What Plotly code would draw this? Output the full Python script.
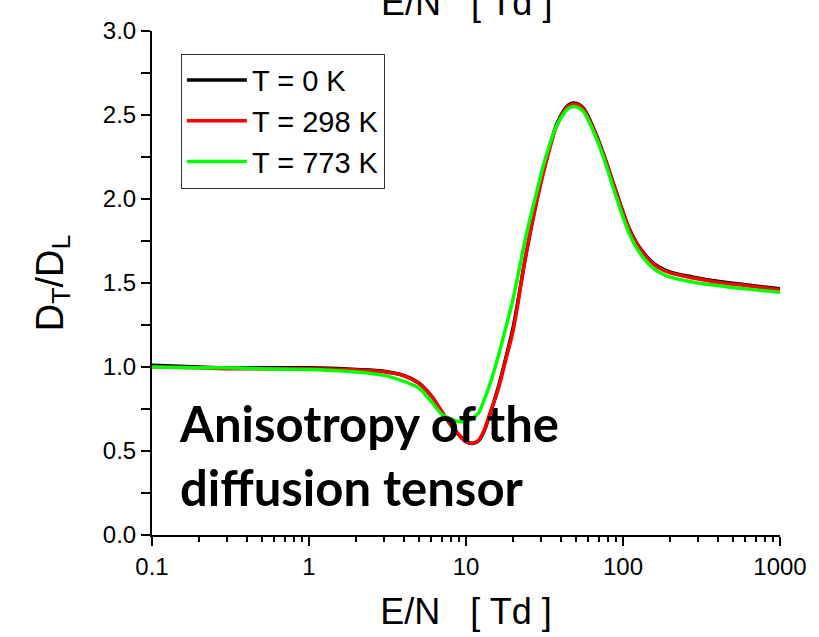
import plotly.graph_objects as go

# E/N values [Td]
en = [0.1, 0.2, 0.3, 0.5, 1, 2, 3, 4, 5, 6, 7, 8, 9, 10, 11, 12, 13, 14, 16, 18,
      20, 24, 28, 32, 38, 45, 50, 56, 65, 75, 90, 110, 130, 160, 200, 280, 400, 600, 1000]

# D_T / D_L
t0 = [1.01, 1.0, 0.995, 0.995, 0.995, 0.985, 0.975, 0.95, 0.905, 0.83, 0.735, 0.655, 0.595, 0.555, 0.545,
      0.56, 0.615, 0.70, 0.875, 1.06, 1.24, 1.66, 1.98, 2.21, 2.45, 2.56, 2.57, 2.54, 2.42, 2.27,
      2.05, 1.82, 1.70, 1.61, 1.565, 1.535, 1.51, 1.49, 1.465]
t298 = [1.0, 0.995, 0.99, 0.99, 0.99, 0.983, 0.972, 0.948, 0.903, 0.828, 0.735, 0.657, 0.598, 0.557, 0.546,
        0.562, 0.62, 0.705, 0.865, 1.05, 1.22, 1.66, 1.97, 2.20, 2.44, 2.555, 2.565, 2.535, 2.415, 2.265,
        2.045, 1.815, 1.695, 1.605, 1.56, 1.53, 1.505, 1.485, 1.46]
t773 = [1.0, 0.995, 0.995, 0.99, 0.985, 0.97, 0.95, 0.915, 0.875, 0.795, 0.72, 0.69, 0.675, 0.675, 0.695,
        0.725, 0.80, 0.88, 1.06, 1.24, 1.41, 1.77, 2.03, 2.24, 2.44, 2.54, 2.55, 2.52, 2.40, 2.25,
        2.02, 1.79, 1.67, 1.58, 1.535, 1.505, 1.485, 1.465, 1.445]

series = [("T = 0 K", t0, "#000000"), ("T = 298 K", t298, "#ff0000"), ("T = 773 K", t773, "#00ff00")]

x_ticks = [0.1, 1, 10, 100, 1000]
x_ticktext = ["0.1", "1", "10", "100", "1000"]
y_ticks = [0.0, 0.5, 1.0, 1.5, 2.0, 2.5, 3.0]

x_minor = [m * 10 ** e for e in range(-1, 3) for m in range(2, 10)]
y_minor = [0.25, 0.75, 1.25, 1.75, 2.25, 2.75]

SANS = "Liberation Sans, Arial, sans-serif"

fig = go.Figure()
for name, vals, col in series:
    fig.add_trace(go.Scatter(x=en, y=vals, name=name, mode="lines",
                             line=dict(color=col, width=3.5, shape="spline", smoothing=0.8)))

axis_common = dict(showgrid=False, zeroline=False, linecolor="black", linewidth=2,
                   tickcolor="black", tickwidth=2, ticklen=9)

fig.update_layout(
    width=819, height=637,
    margin=dict(l=152, r=31, t=31, b=100),
    plot_bgcolor="white", paper_bgcolor="white",
    font=dict(family=SANS, size=24, color="black"),
    showlegend=True,
    legend=dict(x=0.046, y=0.955, xanchor="left", yanchor="top",
                bordercolor="#333333", borderwidth=1, bgcolor="white",
                font=dict(family=SANS, size=29), tracegroupgap=0, itemwidth=60),
    xaxis=dict(type="log", range=[-1, 3], tickvals=x_ticks, ticktext=x_ticktext,
               ticks="outside", showline=True,
               minor=dict(tickvals=x_minor, ticks="outside", ticklen=5, tickwidth=2, tickcolor="black"),
               title=dict(text="E/N   [ Td ]", font=dict(size=36), standoff=20),
               tickfont=dict(size=24), **axis_common),
    yaxis=dict(range=[0, 3], tickvals=y_ticks, tickformat=".1f",
               ticks="outside", showline=True,
               minor=dict(tickvals=y_minor, ticks="outside", ticklen=9, tickwidth=2, tickcolor="black"),
               title=dict(text="D<sub>T</sub>/D<sub>L</sub>", font=dict(size=38), standoff=28),
               tickfont=dict(size=24), **axis_common),
    xaxis2=dict(type="log", range=[-1, 3], overlaying="x", side="top", anchor="y",
                tickvals=x_ticks, showticklabels=False, ticks="inside", showline=True,
                minor=dict(tickvals=x_minor, ticks="inside", ticklen=5, tickwidth=2, tickcolor="black"),
                **axis_common),
    yaxis2=dict(range=[0, 3], overlaying="y", side="right", anchor="x",
                tickvals=y_ticks, showticklabels=False, ticks="inside", showline=True,
                minor=dict(tickvals=y_minor, ticks="inside", ticklen=5, tickwidth=2, tickcolor="black"),
                **axis_common),
)

fig.add_annotation(text="<b>Anisotropy of the<br>diffusion tensor</b>", xref="paper", yref="paper",
                   x=0.04, y=0.283, xanchor="left", yanchor="top", align="left", showarrow=False,
                   font=dict(family="Lato, Open Sans, sans-serif", size=49, color="black"))

fig.add_annotation(text="E/N   [ Td ]", xref="paper", yref="paper", x=0.5, y=1.012,
                   xanchor="center", yanchor="bottom", showarrow=False,
                   font=dict(family=SANS, size=36, color="black"))

fig.write_html("out.html")
